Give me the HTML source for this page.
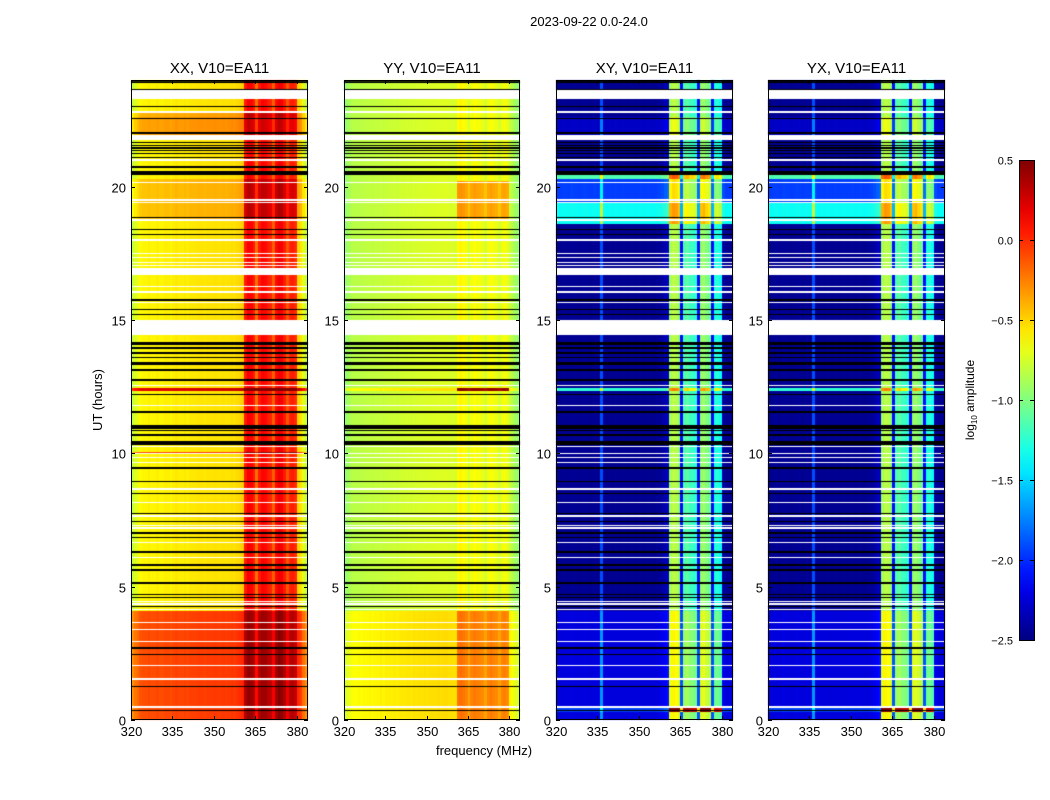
<!DOCTYPE html>
<html><head><meta charset="utf-8">
<style>
body{margin:0;background:#fff;}
#wrap{position:relative;width:1050px;height:800px;overflow:hidden;font-family:"Liberation Sans","DejaVu Sans",sans-serif;}
canvas,svg{position:absolute;left:0;top:0;}
</style></head>
<body>
<div id="wrap">
<canvas id="cv" width="1050" height="800"></canvas>
<svg id="sv" width="1050" height="800"></svg>
</div>
<script>
// ---- data ----
const panelTitles = ["XX, V10=EA11","YY, V10=EA11","XY, V10=EA11","YX, V10=EA11"];
const xTicks = [320,335,350,365,380];
const yTicks = [0,5,10,15,20];
const cbTicks = [0.5,0.0,-0.5,-1.0,-1.5,-2.0,-2.5];
// frequency profiles, 1 MHz bins 320..383 (log10 amplitude)
const freqXX = [-0.8,-0.72,-0.68,-0.62,-0.6,-0.6,-0.58,-0.6,-0.6,-0.58,-0.6,-0.6,-0.58,-0.58,-0.6,-0.58,-0.56,-0.58,-0.58,-0.56,-0.58,-0.56,-0.56,-0.56,-0.55,-0.55,-0.56,-0.55,-0.55,-0.55,-0.54,-0.55,-0.55,-0.54,-0.55,-0.54,-0.53,-0.54,-0.52,-0.5,-0.48,0.05,0.15,0.12,0.05,-0.2,0.05,0.12,0.1,0.05,0.02,-0.15,0.1,0.18,0.15,0.05,-0.12,0.02,0.05,0.0,-0.5,-0.55,-0.7,-0.8];
const freqYY = [-0.95,-0.9,-0.86,-0.83,-0.83,-0.82,-0.83,-0.81,-0.81,-0.8,-0.81,-0.8,-0.8,-0.78,-0.8,-0.78,-0.78,-0.78,-0.77,-0.78,-0.76,-0.76,-0.76,-0.75,-0.76,-0.74,-0.75,-0.74,-0.74,-0.73,-0.74,-0.73,-0.73,-0.73,-0.72,-0.73,-0.72,-0.72,-0.73,-0.73,-0.74,-0.62,-0.6,-0.62,-0.66,-0.75,-0.66,-0.63,-0.65,-0.66,-0.68,-0.75,-0.66,-0.63,-0.66,-0.68,-0.75,-0.67,-0.65,-0.68,-0.8,-0.85,-0.9,-0.95];
const freqXY = [-2.45,-2.45,-2.44,-2.44,-2.45,-2.43,-2.44,-2.44,-2.45,-2.44,-2.43,-2.44,-2.45,-2.44,-2.44,-2.45,-1.9,-2.44,-2.45,-2.44,-2.45,-2.44,-2.45,-2.45,-2.44,-2.45,-2.45,-2.44,-2.45,-2.45,-2.44,-2.45,-2.45,-2.44,-2.45,-2.45,-2.44,-2.43,-2.4,-2.35,-2.3,-0.9,-0.82,-0.85,-0.95,-2.1,-1.15,-1.1,-1.2,-1.2,-1.25,-2.1,-0.95,-0.9,-1.0,-1.05,-2.1,-1.3,-1.25,-1.35,-2.4,-2.45,-2.45,-2.45];
const freqYX = [-2.45,-2.45,-2.44,-2.44,-2.45,-2.43,-2.44,-2.44,-2.45,-2.44,-2.43,-2.44,-2.45,-2.44,-2.44,-2.45,-1.9,-2.44,-2.45,-2.44,-2.45,-2.44,-2.45,-2.45,-2.44,-2.45,-2.45,-2.44,-2.45,-2.45,-2.44,-2.45,-2.45,-2.44,-2.45,-2.45,-2.44,-2.43,-2.4,-2.35,-2.3,-0.9,-0.82,-0.85,-0.95,-2.1,-1.15,-1.1,-1.2,-1.2,-1.25,-2.1,-0.95,-0.9,-1.0,-1.05,-2.1,-1.3,-1.25,-1.35,-2.4,-2.45,-2.45,-2.45];
// time segments: [tStart, tEnd, backgroundOffset, bandOffset]
const segXX = [[0,4.1,0.5,-0.2],[18.7,20.3,0.15,0.05],[21.9,22.6,0.25,-0.1],[22.6,22.8,0.2,0],[12.35,12.45,0.8,0.0],[10.0,10.05,0.5,0]];
const segYY = [[0,4.1,0.2,0.2],[18.8,20.2,0.0,0.3],[12.35,12.45,0.2,0.9]];
const segXY = [[0,4.1,0.22,0],[0.3,0.5,0.3,1.0],[18.6,19.4,1.1,-0.6],[19.4,20.3,0.5,-0.2],[20.3,20.45,1.3,-0.6],[12.35,12.45,1.2,-0.6],[21.9,22.6,0.15,0]];
const segYX = [[0,4.1,0.22,0],[0.3,0.5,0.3,1.0],[18.6,19.4,1.1,-0.6],[19.4,20.3,0.5,-0.2],[20.3,20.45,1.3,-0.6],[12.35,12.45,1.2,-0.6],[21.9,22.6,0.15,0]];
// flagged times (hours): [center, width]
const blackRows = [[23.96,0.04],[23.89,0.04],[23.64,0.05],[23.0,0.05],[22.54,0.04],[22.01,0.05],[21.64,0.04],[21.53,0.04],[21.45,0.04],[21.34,0.04],[21.23,0.04],[21.11,0.04],[20.75,0.08],[20.5,0.15],[18.86,0.04],[18.41,0.04],[18.22,0.04],[15.75,0.04],[15.38,0.04],[15.19,0.04],[14.12,0.12],[13.95,0.04],[13.76,0.05],[13.61,0.04],[13.37,0.11],[13.12,0.05],[12.75,0.04],[12.19,0.04],[11.55,0.04],[11.03,0.1],[10.95,0.04],[10.84,0.04],[10.69,0.05],[10.39,0.12],[9.45,0.04],[8.93,0.04],[8.51,0.04],[7.76,0.04],[7.43,0.04],[7.01,0.05],[6.83,0.04],[6.3,0.06],[5.81,0.05],[5.63,0.05],[5.14,0.05],[4.69,0.04],[4.58,0.04],[4.24,0.04],[2.7,0.04],[2.44,0.04],[1.24,0.04],[0.34,0.04]];
const whiteRows = [[23.46,0.36],[22.8,0.04],[21.85,0.2],[21.0,0.04],[20.14,0.04],[19.5,0.04],[19.39,0.04],[18.75,0.04],[18.0,0.04],[17.48,0.04],[17.33,0.04],[17.14,0.04],[17.06,0.04],[16.82,0.26],[16.24,0.04],[16.05,0.04],[15.64,0.04],[14.72,0.56],[12.56,0.04],[11.81,0.04],[10.24,0.04],[10.01,0.04],[9.83,0.04],[9.64,0.04],[8.66,0.08],[8.14,0.04],[7.65,0.04],[7.28,0.04],[7.2,0.04],[6.64,0.04],[6.11,0.04],[4.43,0.04],[4.35,0.04],[4.16,0.04],[3.64,0.04],[3.38,0.04],[2.93,0.04],[2.06,0.04],[1.54,0.06],[0.49,0.05]];

const panels = [
  {x0:131,x1:308,freq:freqXX,seg:segXX,name:"xx"},
  {x0:344,x1:520,freq:freqYY,seg:segYY,name:"yy"},
  {x0:556,x1:733,freq:freqXY,seg:segXY,name:"xy"},
  {x0:768,x1:945,freq:freqYX,seg:segYX,name:"yx"}
];
const Y0=80,Y1=720,F0=320,F1=384,TMAX=24,VMIN=-2.5,VMAX=0.5;
const BAND0=41,BAND1=59;
function yScale(t){return Y1-(t/TMAX)*(Y1-Y0);}
function xScale(p,f){return p.x0+(f-F0)/(F1-F0)*(p.x1-p.x0);}
function clamp(v){return Math.max(0,Math.min(1,v));}
function jet(v){const x=clamp((v-VMIN)/(VMAX-VMIN));
  return [clamp(1.5-Math.abs(4*x-3))*255,clamp(1.5-Math.abs(4*x-2))*255,clamp(1.5-Math.abs(4*x-1))*255];}
function inRows(rows,t){for(const r of rows){if(Math.abs(t-r[0])<=r[1]/2)return true;}return false;}

const cv=document.getElementById('cv');const ctx=cv.getContext('2d');
ctx.fillStyle='#fff';ctx.fillRect(0,0,1050,800);
for(const p of panels){
  const w=p.x1-p.x0,h=Y1-Y0;
  const img=ctx.createImageData(w,h);
  for(let py=0;py<h;py++){
    const t=(h-py-0.5)/h*TMAX;
    const isB=inRows(blackRows,t),isW=!isB&&inRows(whiteRows,t);
    let bg=0,bd=0;
    for(const s of p.seg){if(t>=s[0]&&t<s[1]){bg+=s[2];bd+=s[3];}}
    for(let px=0;px<w;px++){
      const f=Math.min(63,Math.floor((px+0.5)/w*(F1-F0)));
      let c;
      if(isB)c=[0,0,0];else if(isW)c=[255,255,255];
      else{const v=p.freq[f]+bg+((f>=BAND0&&f<=BAND1)?bd:0);c=jet(v);}
      const i=(py*w+px)*4;img.data[i]=c[0];img.data[i+1]=c[1];img.data[i+2]=c[2];img.data[i+3]=255;
    }
  }
  ctx.putImageData(img,p.x0,Y0);
}

// ---- SVG overlay ----
const NS="http://www.w3.org/2000/svg";const sv=document.getElementById('sv');
function mk(tag,attrs,parent){const e=document.createElementNS(NS,tag);for(const k in attrs)e.setAttribute(k,attrs[k]);(parent||sv).appendChild(e);return e;}
function txt(s,attrs,parent){const e=mk('text',attrs,parent);e.textContent=s;return e;}

const sup=txt("2023-09-22 0.0-24.0",{x:589,y:26,'text-anchor':'middle','font-size':13});



panels.forEach((p,i)=>{
  const g=mk('g',{});
  
  
  const fr=mk('rect',{x:p.x0+0.5,y:Y0+0.5,width:p.x1-p.x0-1,height:Y1-Y0-1,fill:'none',stroke:'#000','stroke-width':1},g);
  
  
  const tt=txt(panelTitles[i],{x:(p.x0+p.x1)/2,y:73,'text-anchor':'middle','font-size':15},g);
  
  
  for(const f of xTicks){
    const x=Math.round(xScale(p,f))+0.5;
    mk('line',{x1:x,x2:x,y1:Y1,y2:Y1-4,stroke:'#000'},g);
    mk('line',{x1:x,x2:x,y1:Y0,y2:Y0+4,stroke:'#000'},g);
    const l=txt(String(f),{x:x,y:Y1+16,'text-anchor':'middle','font-size':13},g);
    
    
  }
  for(const t of yTicks){
    const y=Math.round(yScale(t))+0.5;
    mk('line',{x1:p.x0,x2:p.x0+4,y1:y,y2:y,stroke:'#000'},g);
    mk('line',{x1:p.x1,x2:p.x1-4,y1:y,y2:y,stroke:'#000'},g);
    const l=txt(String(t),{x:p.x0-5,y:y+5,'text-anchor':'end','font-size':13},g);
    
    
  }
});
const yl=txt("UT (hours)",{x:0,y:0,'text-anchor':'middle','font-size':13,transform:'translate(102,400) rotate(-90)'});


const xl=txt("frequency (MHz)",{x:484,y:755,'text-anchor':'middle','font-size':13});



// colorbar
const defs=mk('defs',{});const lg=mk('linearGradient',{id:'jet',x1:0,y1:1,x2:0,y2:0},defs);
for(let k=0;k<=20;k++){const c=jet(VMIN+(VMAX-VMIN)*k/20);mk('stop',{offset:(k/20),'stop-color':`rgb(${c.map(Math.round).join(',')})`},lg);}
const CBX=1019,CBW=15,CB0=160,CB1=640;
const cb=mk('rect',{x:CBX+0.5,y:CB0+0.5,width:CBW,height:CB1-CB0,fill:'url(#jet)',stroke:'#000','stroke-width':1});


for(const v of cbTicks){
  const y=Math.round(CB1-(v-VMIN)/(VMAX-VMIN)*(CB1-CB0))+0.5;
  mk('line',{x1:CBX,x2:CBX+4,y1:y,y2:y,stroke:'#000'});
  mk('line',{x1:CBX+CBW,x2:CBX+CBW-4,y1:y,y2:y,stroke:'#000'});
  const l=txt((v<0?"\u2212":"")+Math.abs(v).toFixed(1),{x:1013,y:y+4,'text-anchor':'end','font-size':11});
  
  
}
const cl=mk('text',{x:0,y:0,'text-anchor':'middle','font-size':12,transform:'translate(974,400) rotate(-90)'});


cl.appendChild(document.createTextNode("log"));
const sub=mk('tspan',{'font-size':8,dy:3},cl);sub.textContent="10";
const rest=mk('tspan',{dy:-3},cl);rest.textContent=" amplitude";
</script>
</body></html>
